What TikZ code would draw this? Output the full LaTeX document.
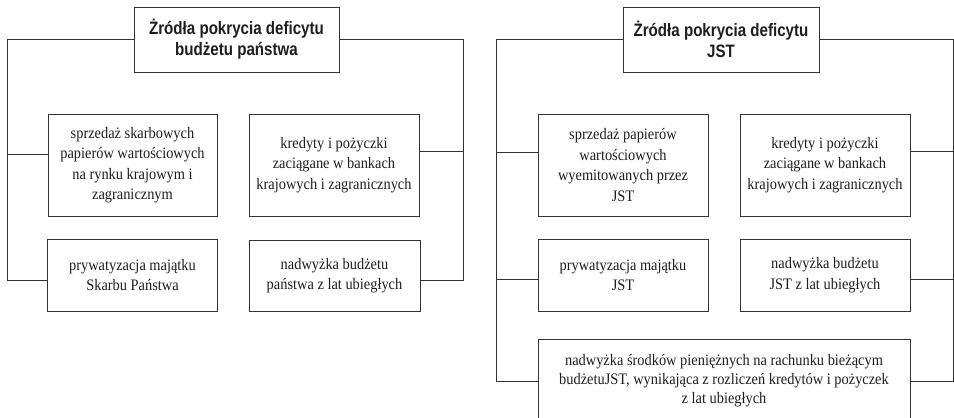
\documentclass[tikz,border=0pt]{standalone}
\usepackage{fontspec}
\setmainfont{Liberation Serif}
\newfontfamily\headfont[FakeStretch=0.84]{Liberation Sans Bold}
\newfontfamily\boxfont[FakeStretch=0.9]{Liberation Serif}
\usetikzlibrary{positioning,calc}
\definecolor{dfInk}{HTML}{1E1E1E}
\definecolor{dfLine}{HTML}{333333}
\tikzset{
  head/.style   ={draw=dfLine,line width=1pt,fill=white,align=center,inner sep=2pt,
                  font=\headfont\fontsize{18}{21}\selectfont,text=dfInk},
  src/.style    ={draw=dfLine,line width=1pt,fill=white,align=center,inner sep=2pt,
                  font=\boxfont\fontsize{16}{20.5}\selectfont,text=dfInk},
  link/.style   ={dfLine,line width=1pt},
}

\begin{document}
\begin{tikzpicture}[x=1pt,y=-1pt]
\path[fill=white,use as bounding box] (0,0) rectangle (954,418);
\clip (0,0) rectangle (954,418);

%% state budget
\node[head,minimum width=205pt,minimum height=65pt] (T1) at (236.5,39.5)
  {Żródła pokrycia deficytu\\budżetu państwa};
\node[src,minimum width=169pt,minimum height=102pt] (A1) at (132.5,165)
  {sprzedaż skarbowych\\papierów wartościowych\\na rynku krajowym i\\zagranicznym};
\node[src,minimum width=170pt,minimum height=102pt] (B1) at (334,165)
  {kredyty i pożyczki\\zaciągane w bankach\\krajowych i zagranicznych};
\node[src,minimum width=170pt,minimum height=72pt] (C1) at (132.5,275)
  {prywatyzacja majątku\\Skarbu Państwa};
\node[src,minimum width=171pt,minimum height=71pt] (D1) at (334.5,275.5)
  {nadwyżka budżetu\\państwa z lat ubiegłych};
\coordinate (L1) at (7,0);
\coordinate (R1) at (463,0);
\draw[link] (T1.west) -| (L1 |- C1.184) -- (C1.184);
\draw[link] (L1 |- A1.173) -- (A1.173);
\draw[link] (T1.east) -| (R1 |- D1.-3) -- (D1.-3);
\draw[link] (R1 |- B1.9) -- (B1.9);

%% local government units
\node[head,minimum width=196pt,minimum height=65pt] (T2) at (721,39.5)
  {Żródła pokrycia deficytu\\JST};
\node[src,minimum width=170pt,minimum height=102pt] (E2) at (623,165)
  {sprzedaż papierów\\wartościowych\\wyemitowanych przez\\JST};
\node[src,minimum width=170pt,minimum height=102pt] (F2) at (825,165)
  {kredyty i pożyczki\\zaciągane w bankach\\krajowych i zagranicznych};
\node[src,minimum width=170pt,minimum height=72pt] (G2) at (623,275)
  {prywatyzacja majątku\\JST};
\node[src,minimum width=170pt,minimum height=72pt] (H2) at (825,275)
  {nadwyżka budżetu\\JST z lat ubiegłych};
\node[src,minimum width=372pt,minimum height=84pt,
      font=\boxfont\fontsize{16}{19}\selectfont] (I2) at (724,381)
  {nadwyżka środków pieniężnych na rachunku bieżącym\\budżetuJST, wynikająca z rozliczeń kredytów i pożyczek\\z lat ubiegłych};
\coordinate (L2) at (496,0);
\coordinate (R2) at (953,0);
\draw[link] (T2.west) -| (L2 |- I2.west) -- (I2.west);
\draw[link] (L2 |- E2.172) -- (E2.172);
\draw[link] (L2 |- G2.183) -- (G2.183);
\draw[link] (T2.east) -| (R2 |- I2.east) -- (I2.east);
\draw[link] (R2 |- F2.9) -- (F2.9);
\draw[link] (R2 |- H2.-3) -- (H2.-3);
\end{tikzpicture}
\end{document}
